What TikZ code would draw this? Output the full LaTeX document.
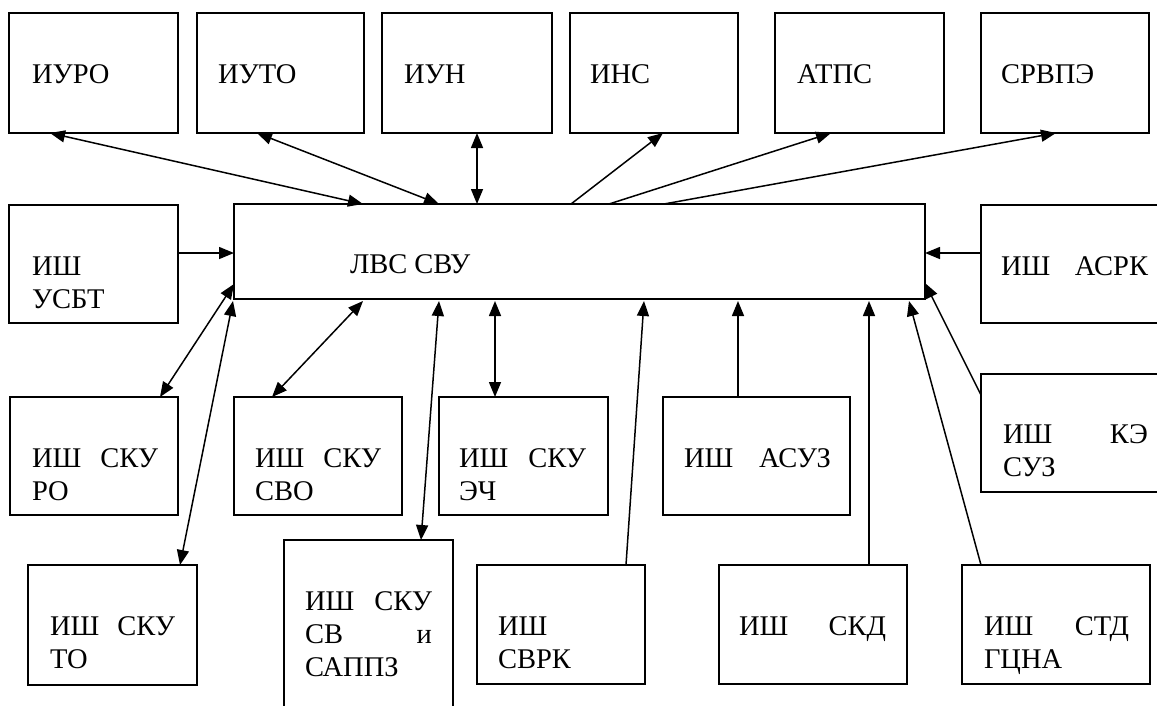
\documentclass[tikz,border=0pt]{standalone}
\usepackage{fontspec}
\setmainfont{Liberation Serif}
\usetikzlibrary{arrows.meta,calc}
\begin{document}
\begin{tikzpicture}[x=1pt,y=-1pt,
  box/.style={draw, line width=1.6pt, rectangle, inner sep=0pt, outer sep=0pt, anchor=north west},
  txt/.style={inner sep=0pt, outer sep=0pt, anchor=north west, align=left, font=\fontsize{28.5}{33}\selectfont},
  arr/.style={line width=1.5pt, -{Triangle[length=15pt,width=12pt]}},
  darr/.style={line width=1.5pt, {Triangle[length=15pt,width=12pt]}-{Triangle[length=15pt,width=12pt]}}
]
\useasboundingbox (0,0) rectangle (1157,705);
\clip (0,0) rectangle (1157,705);
\fill[white] (0,0) rectangle (1157,705);

% top row
\node[box, minimum width=169pt, minimum height=120pt] (iuro)  at (9,13) {};
\node[box, minimum width=167pt, minimum height=120pt] (iuto)  at (197,13) {};
\node[box, minimum width=170pt, minimum height=120pt] (iun)   at (382,13) {};
\node[box, minimum width=168pt, minimum height=120pt] (ins)   at (570,13) {};
\node[box, minimum width=169pt, minimum height=120pt] (atps)  at (775,13) {};
\node[box, minimum width=168pt, minimum height=120pt] (srvpe) at (981,13) {};
% middle
\node[box, minimum width=691pt, minimum height=95pt]  (lvs)   at (234,204) {};
\node[box, minimum width=169pt, minimum height=118pt] (usbt)  at (9,205) {};
\node[box, minimum width=190pt, minimum height=118pt] (asrk)  at (981,205) {};
\node[box, minimum width=190pt, minimum height=118pt] (kesuz) at (981,374) {};
% second row
\node[box, minimum width=168pt, minimum height=118pt] (ro)    at (10,397) {};
\node[box, minimum width=168pt, minimum height=118pt] (svo)   at (234,397) {};
\node[box, minimum width=169pt, minimum height=118pt] (ech)   at (439,397) {};
\node[box, minimum width=187pt, minimum height=118pt] (asuz)  at (663,397) {};
% third row
\node[box, minimum width=169pt, minimum height=120pt] (to)    at (28,565) {};
\node[box, minimum width=169pt, minimum height=190pt] (sappz) at (284,540) {};
\node[box, minimum width=168pt, minimum height=119pt] (svrk)  at (477,565) {};
\node[box, minimum width=188pt, minimum height=119pt] (skd)   at (719,565) {};
\node[box, minimum width=188pt, minimum height=119pt] (std)   at (962,565) {};

% texts
\node[txt] (t-iuro)  at ($(iuro.north west)+(23,47)$)  {\strut ИУРО};
\node[txt] (t-iuto)  at ($(iuto.north west)+(21,47)$)  {\strut ИУТО};
\node[txt] (t-iun)   at ($(iun.north west)+(22,47)$)   {\strut ИУН};
\node[txt] (t-ins)   at ($(ins.north west)+(20,47)$)   {\strut ИНС};
\node[txt] (t-atps)  at ($(atps.north west)+(22,47)$)  {\strut АТПС};
\node[txt] (t-srvpe) at ($(srvpe.north west)+(20,47)$) {\strut СРВПЭ};
\node[txt] (t-lvs)   at ($(lvs.north west)+(116,46)$)  {\strut ЛВС СВУ};
\node[txt, text width=126pt] (t-usbt)  at ($(usbt.north west)+(23,47)$)  {\strut ИШ\\УСБТ};
\node[txt, text width=147pt] (t-asrk)  at ($(asrk.north west)+(20,47)$)  {\strut ИШ\hfill АСРК};
\node[txt, text width=145pt] (t-kesuz) at ($(kesuz.north west)+(22,46)$) {\strut ИШ\hfill КЭ\\СУЗ};
\node[txt, text width=126pt] (t-ro)    at ($(ro.north west)+(22,47)$)    {\strut ИШ\hfill СКУ\\РО};
\node[txt, text width=126pt] (t-svo)   at ($(svo.north west)+(21,47)$)   {\strut ИШ\hfill СКУ\\СВО};
\node[txt, text width=127pt] (t-ech)   at ($(ech.north west)+(20,47)$)   {\strut ИШ\hfill СКУ\\ЭЧ};
\node[txt, text width=147pt] (t-asuz)  at ($(asuz.north west)+(21,47)$)  {\strut ИШ\hfill АСУЗ};
\node[txt, text width=125pt] (t-to)    at ($(to.north west)+(22,47)$)    {\strut ИШ\hfill СКУ\\ТО};
\node[txt, text width=127pt] (t-sappz) at ($(sappz.north west)+(21,47)$) {\strut ИШ\hfill СКУ\\СВ\hfill и\\САППЗ};
\node[txt, text width=126pt] (t-svrk)  at ($(svrk.north west)+(21,47)$)  {\strut ИШ\\СВРК};
\node[txt, text width=147pt] (t-skd)   at ($(skd.north west)+(20,47)$)   {\strut ИШ\hfill СКД};
\node[txt, text width=145pt] (t-std)   at ($(std.north west)+(22,47)$)   {\strut ИШ\hfill СТД\\ГЦНА};

% connectors to top row
\draw[darr] ($(iuro.south west)+(41,0)$) -- ($(lvs.north west)+(129,0)$);
\draw[darr] ($(iuto.south west)+(60,0)$) -- ($(lvs.north west)+(205,0)$);
\draw[darr] ($(iun.south west)+(95,0)$)  -- ($(lvs.north west)+(243,0)$);
\draw[arr]  ($(lvs.north west)+(337,0)$) -- ($(ins.south west)+(93,0)$);
\draw[arr]  ($(lvs.north west)+(375,0)$) -- ($(atps.south west)+(56,0)$);
\draw[arr]  ($(lvs.north west)+(430,0)$) -- ($(srvpe.south west)+(75,0)$);
% side connectors
\draw[arr]  ($(usbt.north east)+(0,48)$) -- ($(lvs.north west)+(0,49)$);
\draw[arr]  ($(asrk.north west)+(0,48)$) -- ($(lvs.north east)+(0,49)$);
\draw[arr]  ($(kesuz.north west)+(0,21)$) -- ($(lvs.north east)+(0,79)$);
% bottom connectors
\draw[darr] ($(ro.north west)+(150,0)$)   -- ($(lvs.north west)+(0,80)$);
\draw[darr] ($(to.north west)+(152,0)$)   -- ($(lvs.south west)+(-1,2)$);
\draw[darr] ($(svo.north west)+(38,0)$)   -- ($(lvs.south west)+(129,2)$);
\draw[darr] ($(sappz.north west)+(137,0)$) -- ($(lvs.south west)+(205,2)$);
\draw[darr] ($(ech.north west)+(56,0)$)   -- ($(lvs.south west)+(261,2)$);
\draw[arr]  ($(svrk.north west)+(149,0)$) -- ($(lvs.south west)+(410,2)$);
\draw[arr]  ($(asuz.north west)+(75,0)$)  -- ($(lvs.south west)+(504,2)$);
\draw[arr]  ($(skd.north west)+(150,0)$)  -- ($(lvs.south west)+(635,2)$);
\draw[arr]  ($(std.north west)+(19,0)$)   -- ($(lvs.south west)+(675,2)$);
\end{tikzpicture}
\end{document}
